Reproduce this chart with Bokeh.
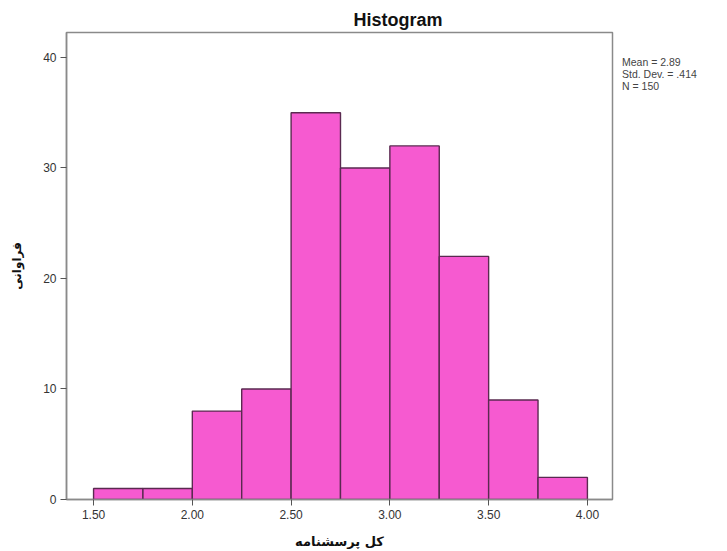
from bokeh.plotting import figure
from bokeh.models import Range1d, FixedTicker, Legend, LegendItem
from bokeh.embed import file_html
from bokeh.resources import INLINE

bin_edges = [1.50, 1.75, 2.00, 2.25, 2.50, 2.75, 3.00, 3.25, 3.50, 3.75, 4.00]
counts = [1, 1, 8, 10, 35, 30, 32, 22, 9, 2]
x_ticks = [1.50, 2.00, 2.50, 3.00, 3.50, 4.00]
y_ticks = [0, 10, 20, 30, 40]
stats_lines = ["Mean = 2.89", "Std. Dev. = .414", "N = 150"]
title_text = "Histogram"
x_label = "کل پرسشنامه"
y_label = "فراوانی"

p = figure(frame_width=546, frame_height=467, output_backend="svg", toolbar_location=None,
           x_range=Range1d(1.363, 4.127), y_range=Range1d(0, 42.26),
           min_border_left=66, min_border_right=113, min_border_top=32, min_border_bottom=50)
p.background_fill_color = "white"
p.border_fill_color = "white"
p.outline_line_color = "#8a8a8a"
p.outline_line_width = 1.5
p.xgrid.visible = False
p.ygrid.visible = False

p.title.text = title_text
p.title.align = "left"
p.title.offset = 287
p.title.text_font = "Liberation Sans"
p.title.text_font_style = "bold"
p.title.text_font_size = "18px"
p.title.text_color = "#111111"
p.title.standoff = 5

p.quad(left=bin_edges[:-1], right=bin_edges[1:], bottom=0, top=counts,
       fill_color="#F65AD0", line_color="#5a2a50", line_width=1.4)

for ax in (p.xaxis[0], p.yaxis[0]):
    ax.axis_line_color = "#8a8a8a"
    ax.axis_line_width = 1.5
    ax.major_tick_line_color = "#555555"
    ax.major_tick_out = 6
    ax.major_tick_in = 0
    ax.minor_tick_line_color = None
    ax.major_label_text_font = "Liberation Sans"
    ax.major_label_text_font_size = "12px"
    ax.major_label_text_color = "#333333"
    ax.axis_label_text_font = "DejaVu Sans"
    ax.axis_label_text_font_style = "bold"
    ax.axis_label_text_color = "#111111"

p.xaxis.ticker = FixedTicker(ticks=x_ticks)
p.xaxis.major_label_overrides = {t: f"{t:.2f}" for t in x_ticks}
p.yaxis.ticker = FixedTicker(ticks=y_ticks)
p.xaxis.axis_label = x_label
p.yaxis.axis_label = y_label
p.xaxis.axis_label_text_font_size = "13px"
p.yaxis.axis_label_text_font_size = "12px"
p.xaxis.major_label_standoff = 4
p.yaxis.major_label_standoff = 4
p.xaxis.axis_label_standoff = 12
p.yaxis.axis_label_standoff = 16

dummy = p.scatter(x=[], y=[], size=0, fill_alpha=0, line_alpha=0)
items = [LegendItem(label=s, renderers=[dummy]) for s in stats_lines]
legend = Legend(items=items, location="top_left", margin=10, padding=0, spacing=0,
                glyph_width=0, glyph_height=10, label_height=10, label_standoff=0,
                label_text_font="Liberation Sans", label_text_font_size="10.5px",
                label_text_color="#444444", border_line_color=None,
                background_fill_alpha=0, title=" ", title_text_font_size="8px",
                title_standoff=5)
p.add_layout(legend, "right")

open("out.html", "w").write(file_html(p, INLINE))
